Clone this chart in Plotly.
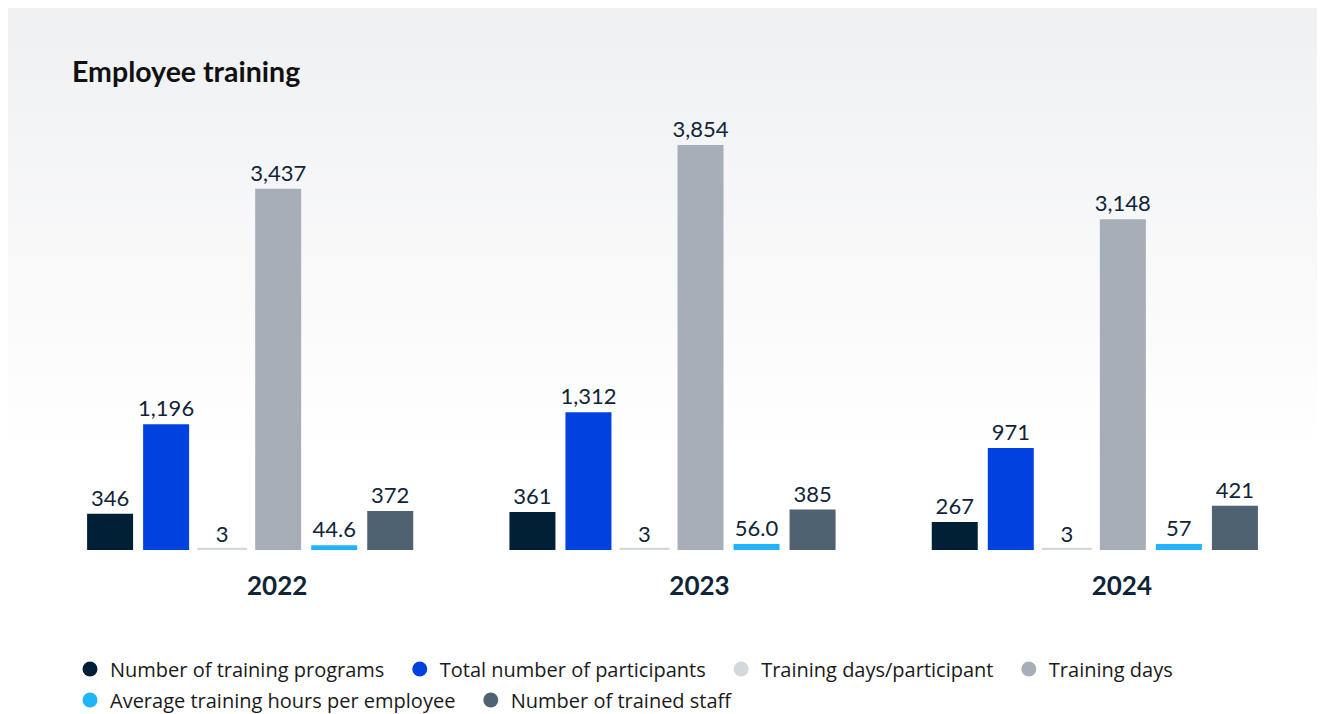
import plotly.graph_objects as go

years = ["2022", "2023", "2024"]

series_names = [
    "Number of training programs",
    "Total number of participants",
    "Training days/participant",
    "Training days",
    "Average training hours per employee",
    "Number of trained staff",
]
series_colors = ["#022035", "#0041e0", "#d3d8dd", "#a6afb7", "#20b5fb", "#4e6271"]

training_programs = [346, 361, 267]
participants = [1196, 1312, 971]
days_per_participant = [3, 3, 3]
training_days = [3437, 3854, 3148]
avg_hours = [44.6, 56.0, 57]
trained_staff = [372, 385, 421]

series_values = [training_programs, participants, days_per_participant,
                 training_days, avg_hours, trained_staff]

TEXT_COLOR = "#0f2437"
# page body adds an 8px margin, so the figure is a bit smaller than the window
W, H = 1317, 706
ML, MR, MT, MB = 31, 19, 92, 164
PW, PH = W - ML - MR, H - MT - MB

# soft grey-to-white panel behind the chart
_grad_svg = (
    "data:image/svg+xml;utf8,"
    "<svg xmlns='http://www.w3.org/2000/svg' width='100' height='100' preserveAspectRatio='none'>"
    "<defs><linearGradient id='g' x1='0' y1='0' x2='0' y2='1'>"
    "<stop offset='0' stop-color='%23eff0f2'/>"
    "<stop offset='0.63' stop-color='%23ffffff'/>"
    "<stop offset='1' stop-color='%23ffffff'/>"
    "</linearGradient></defs>"
    "<rect width='100' height='100' fill='url(%23g)'/></svg>"
)

fig = go.Figure()
for i, (name, vals, color) in enumerate(zip(series_names, series_values, series_colors)):
    fig.add_trace(go.Bar(
        name=name,
        x=years,
        y=vals,
        marker_color=color,
        # tiny values still get a visible sliver
        marker_line=dict(color=color, width=4 if max(vals) < 10 else 0),
        text=[f"{v:,}" for v in vals],
        textposition="outside",
        constraintext="none",
        textfont=dict(family="Lato", size=22, color=TEXT_COLOR),
        cliponaxis=False,
        showlegend=False,
        hovertemplate=f"{name}: %{{y}}<extra></extra>",
    ))
    # round legend markers, split over two rows (nbsp pads the gap between entries)
    fig.add_trace(go.Scatter(
        name=name + "\u00a0\u00a0",
        x=[None],
        y=[None],
        mode="markers",
        marker=dict(symbol="circle", size=15, color=color),
        legend="legend" if i < 4 else "legend2",
    ))

legend_common = dict(
    orientation="h",
    x=(62 - ML) / PW, xanchor="left",
    yref="container", yanchor="middle",
    font=dict(family="Open Sans", size=20, color="#1a1a1a"),
    bgcolor="rgba(0,0,0,0)",
    itemclick=False,
)

fig.update_layout(
    width=W,
    height=H,
    paper_bgcolor="white",
    plot_bgcolor="rgba(0,0,0,0)",
    margin=dict(l=ML, r=MR, t=MT, b=MB),
    barmode="group",
    bargap=0.204,
    bargroupgap=0.179,
    title=dict(
        text="<b>Employee training</b>",
        x=64 / W, xref="container", xanchor="left",
        y=1 - 64 / H, yref="container", yanchor="middle",
        font=dict(family="Lato", size=28.5, color="#111111"),
    ),
    xaxis=dict(
        showgrid=False, zeroline=False, showline=False,
        ticks="", ticklabelstandoff=18, ticklabelshift=27,
        tickfont=dict(family="Lato", size=26, color=TEXT_COLOR, weight="bold"),
    ),
    yaxis=dict(
        range=[0, 3854 * PH / 405],
        visible=False,
    ),
    legend=dict(legend_common, y=1 - 661 / H),
    legend2=dict(legend_common, y=1 - 692 / H),
    images=[dict(
        source=_grad_svg,
        xref="paper", yref="paper",
        x=-ML / PW, y=(MT + PH + 3) / PH,
        sizex=W / PW, sizey=(H + 3) / PH,
        xanchor="left", yanchor="top",
        sizing="stretch", layer="below",
    )],
)

fig.write_html("out.html")
